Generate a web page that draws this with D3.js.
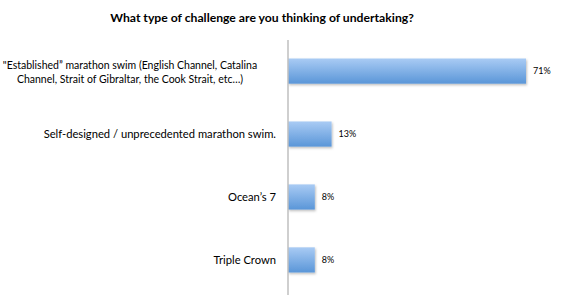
<!DOCTYPE html>
<html>
<head>
<meta charset="utf-8">
<script src="https://cdn.jsdelivr.net/npm/d3@7"></script>
<style>
  body { margin: 0; background: #fff; }
  text { font-family: Lato, "Liberation Sans", sans-serif; fill: #000; }
</style>
</head>
<body>
<svg id="mainsvg" width="564" height="295"></svg>
<script>
// data
const categories = [
  '"Established" marathon swim',
  'Self-designed / unprecedented marathon swim.',
  'Ocean\u2019s 7',
  'Triple Crown'
];
// the first category wraps onto two lines
const categoryLines = [
  ['"Established\u201d marathon swim (English Channel, Catalina', 'Channel, Strait of Gibraltar, the Cook Strait, etc\u2026)'],
  ['Self-designed / unprecedented marathon swim.'],
  ['Ocean\u2019s 7'],
  ['Triple Crown']
];
const values = [71, 13, 8, 8];
const valueLabels = ['71%', '13%', '8%', '8%'];
const title = 'What type of challenge are you thinking of undertaking?';

const svg = d3.select('#mainsvg'),
  width = Number(svg.attr('width')),
  height = Number(svg.attr('height'));

const axisX = 288;

const defs = svg.append('defs');
const grad = defs.append('linearGradient')
  .attr('id', 'barGrad')
  .attr('x1', 0).attr('y1', 0).attr('x2', 0).attr('y2', 1);
grad.append('stop').attr('offset', '0%').attr('stop-color', '#a9cbf4');
grad.append('stop').attr('offset', '100%').attr('stop-color', '#5a96d8');

const shadow = defs.append('filter').attr('id', 'shadow')
  .attr('x', '-5%').attr('y', '-20%').attr('width', '115%').attr('height', '160%');
shadow.append('feDropShadow')
  .attr('dx', 1).attr('dy', 1.5).attr('stdDeviation', 1)
  .attr('flood-color', '#000').attr('flood-opacity', 0.25);

const xScale = d3.scaleLinear()
  .domain([0, 71])
  .range([axisX, 526]);

const yScale = d3.scaleBand()
  .domain(categories)
  .range([40, 291])
  .paddingInner(0.6)
  .paddingOuter(0.294);

// title
svg.append('text')
  .attr('x', 262)
  .attr('y', 22)
  .attr('text-anchor', 'middle')
  .attr('font-size', '12.2px')
  .attr('font-weight', 'bold')
  .text(title);

// bars
svg.append('g')
  .selectAll('rect')
  .data(values)
  .join('rect')
  .attr('x', xScale(0))
  .attr('y', (d, i) => yScale(categories[i]))
  .attr('width', d => xScale(d) - xScale(0))
  .attr('height', yScale.bandwidth())
  .attr('fill', 'url(#barGrad)')
  .attr('filter', 'url(#shadow)');

// value labels
svg.append('g')
  .selectAll('text')
  .data(values)
  .join('text')
  .attr('x', d => xScale(d) + 7)
  .attr('y', (d, i) => yScale(categories[i]) + yScale.bandwidth() / 2)
  .attr('dy', '0.35em')
  .attr('font-size', '9px')
  .text((d, i) => valueLabels[i]);

// category axis
const yAxis = d3.axisLeft(yScale).tickSize(0).tickPadding(12);
const gy = svg.append('g')
  .attr('transform', `translate(${axisX},0)`)
  .call(yAxis);
gy.select('.domain')
  .attr('d', `M0,40V${height}`)
  .attr('stroke', '#bfbfbf')
  .attr('stroke-width', 1.5);

gy.selectAll('.tick text')
  .attr('font-size', '11.2px')
  .attr('font-family', 'Lato, "Liberation Sans", sans-serif')
  .attr('fill', '#000')
  .each(function (d, i) {
    const lines = categoryLines[i];
    if (lines.length === 1) return;
    // wrapped label: lines centred under each other, a bit smaller
    const t = d3.select(this).text(null)
      .attr('text-anchor', 'middle')
      .attr('font-size', '10.5px')
      .attr('x', 130 - axisX)
      .attr('dy', null);
    lines.forEach((line, k) => {
      t.append('tspan')
        .attr('x', 130 - axisX)
        .attr('dy', k === 0 ? '-2px' : '14px')
        .text(line);
    });
  });
</script>
</body>
</html>
